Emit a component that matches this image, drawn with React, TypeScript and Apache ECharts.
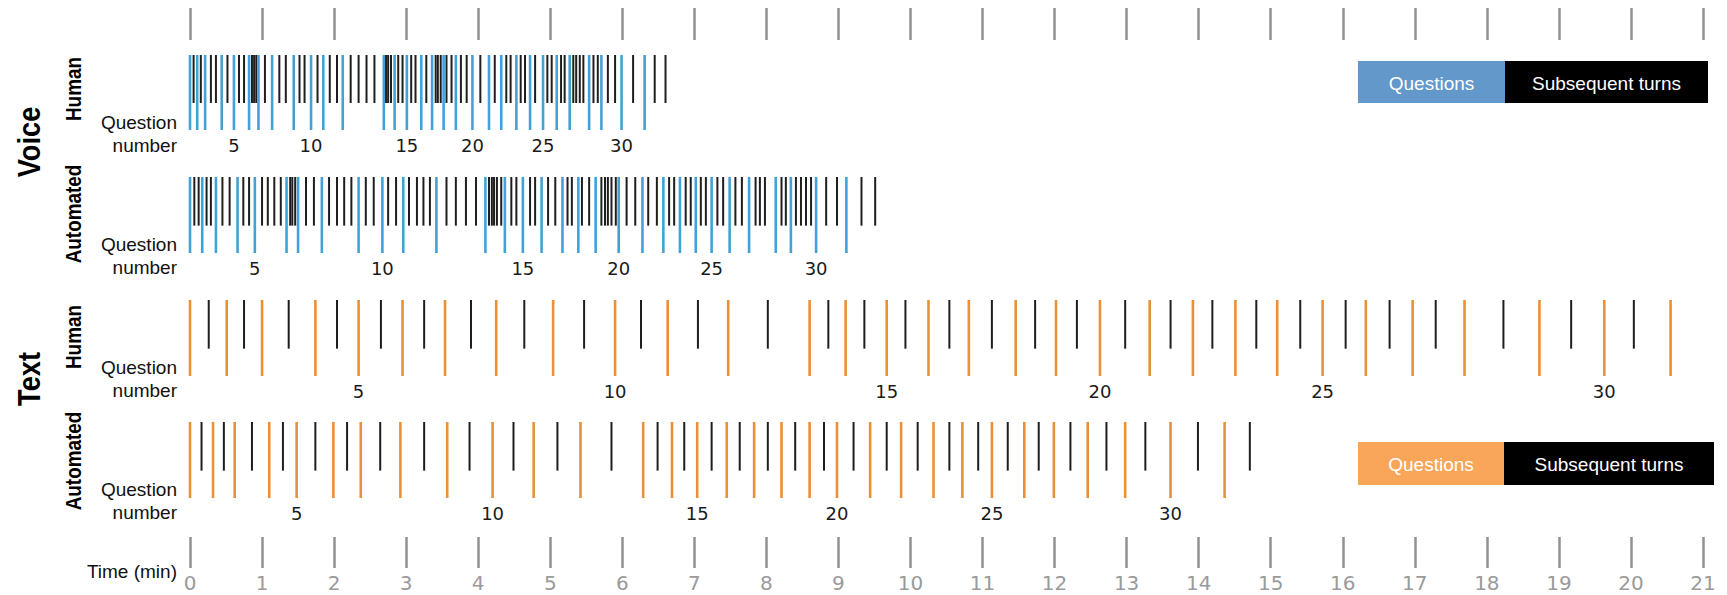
import React, { useEffect, useRef } from 'react';
import * as echarts from 'echarts';

// ---- data (minutes) ----
const TIME_TICKS = [0, 1, 2, 3, 4, 5, 6, 7, 8, 9, 10, 11, 12, 13, 14, 15, 16, 17, 18, 19, 20, 21];

const VOICE_HUMAN_Q = [0, 0.10, 0.21, 0.44, 0.61, 0.82, 0.95, 1.14, 1.44, 1.68, 1.85, 2.12, 2.69, 2.84, 3.01, 3.21, 3.36, 3.52, 3.69, 3.92, 4.15, 4.32, 4.53, 4.72, 4.90, 5.09, 5.27, 5.54, 5.71, 5.99, 6.31];
const VOICE_HUMAN_T = [0.05, 0.15, 0.29, 0.36, 0.52, 0.68, 0.75, 0.86, 0.89, 0.92, 1.04, 1.24, 1.33, 1.52, 1.59, 1.77, 1.94, 2.04, 2.23, 2.34, 2.45, 2.56, 2.72, 2.75, 2.79, 2.89, 2.95, 3.07, 3.13, 3.28, 3.41, 3.44, 3.48, 3.56, 3.63, 3.76, 3.84, 4.03, 4.23, 4.39, 4.45, 4.59, 4.65, 4.79, 4.96, 5.02, 5.15, 5.20, 5.32, 5.36, 5.41, 5.46, 5.60, 5.66, 5.80, 5.90, 6.15, 6.45, 6.60];

const VOICE_AUTO_Q = [0, 0.17, 0.36, 0.66, 0.90, 1.34, 1.50, 1.83, 2.34, 2.67, 2.96, 3.42, 4.10, 4.37, 4.62, 4.88, 5.17, 5.39, 5.63, 5.95, 6.28, 6.57, 6.80, 7.02, 7.24, 7.49, 7.76, 8.13, 8.34, 8.69, 9.11];
const VOICE_AUTO_T = [0.06, 0.12, 0.23, 0.29, 0.45, 0.55, 0.74, 0.82, 1.00, 1.08, 1.17, 1.26, 1.39, 1.42, 1.46, 1.61, 1.72, 1.93, 2.04, 2.14, 2.24, 2.44, 2.55, 2.75, 2.86, 3.04, 3.15, 3.24, 3.33, 3.56, 3.69, 3.83, 3.97, 4.15, 4.19, 4.22, 4.26, 4.32, 4.46, 4.53, 4.72, 4.79, 4.97, 5.07, 5.24, 5.30, 5.44, 5.54, 5.71, 5.76, 5.80, 5.85, 5.91, 6.06, 6.18, 6.36, 6.48, 6.65, 6.72, 6.88, 6.95, 7.09, 7.16, 7.32, 7.40, 7.57, 7.66, 7.85, 7.91, 7.98, 8.21, 8.27, 8.41, 8.48, 8.55, 8.62, 8.83, 8.98, 9.32, 9.51];

const TEXT_HUMAN_Q = [0, 0.51, 1.00, 1.74, 2.34, 2.95, 3.54, 4.25, 5.04, 5.90, 6.63, 7.47, 8.60, 9.10, 9.67, 10.25, 10.81, 11.46, 12.02, 12.63, 13.32, 13.92, 14.51, 15.09, 15.72, 16.32, 16.97, 17.69, 18.73, 19.63, 20.55];
const TEXT_HUMAN_T = [0.26, 0.75, 1.37, 2.04, 2.65, 3.25, 3.90, 4.64, 5.47, 6.26, 7.05, 8.02, 8.86, 9.36, 9.93, 10.54, 11.13, 11.73, 12.31, 12.98, 13.61, 14.19, 14.80, 15.41, 16.04, 16.65, 17.29, 18.23, 19.17, 20.04];

const TEXT_AUTO_Q = [0, 0.32, 0.62, 1.10, 1.48, 1.99, 2.37, 2.92, 3.57, 4.20, 4.77, 5.42, 6.29, 6.69, 7.04, 7.45, 7.83, 8.21, 8.60, 8.98, 9.44, 9.87, 10.32, 10.72, 11.13, 11.58, 11.99, 12.46, 12.98, 13.61, 14.36];
const TEXT_AUTO_T = [0.16, 0.47, 0.86, 1.29, 1.74, 2.18, 2.64, 3.25, 3.88, 4.49, 5.10, 5.85, 6.49, 6.86, 7.24, 7.63, 8.02, 8.40, 8.80, 9.21, 9.67, 10.10, 10.54, 10.94, 11.35, 11.78, 12.22, 12.72, 13.26, 13.99, 14.71];

const MODES = ['Voice', 'Text'];
const SOURCES = ['Human', 'Automated', 'Human', 'Automated'];
const LEGEND_LABELS = ['Questions', 'Subsequent turns'];

// ---- styles ----
const BLUE = '#42a2d8';
const ORANGE = '#ea9038';
const BLACK = '#1e1e1e';
const TICK = '#8e928f';
const X_LEFT = 190;
const X_WIDTH = 1513;
const SANS = '"Liberation Sans", Arial, sans-serif';
const DEJA = '"DejaVu Sans", sans-serif';

const ROWS = [
  { top: 55, height: 75, q: VOICE_HUMAN_Q, t: VOICE_HUMAN_T, color: BLUE },
  { top: 177, height: 76, q: VOICE_AUTO_Q, t: VOICE_AUTO_T, color: BLUE },
  { top: 300, height: 76, q: TEXT_HUMAN_Q, t: TEXT_HUMAN_T, color: ORANGE },
  { top: 422, height: 76, q: TEXT_AUTO_Q, t: TEXT_AUTO_T, color: ORANGE },
];

function lineSeries(gi: number, data: number[], color: string, width: number, frac: number, labels: boolean) {
  return {
    type: 'custom',
    xAxisIndex: gi,
    yAxisIndex: gi,
    silent: true,
    clip: false,
    encode: { x: 0, y: 1 },
    data: data.map((t, i) => [t, 0.5, i + 1]),
    renderItem: (_p: any, api: any) => {
      const x = api.value(0);
      const n = api.value(2);
      const p0 = api.coord([x, 1]);
      const p1 = api.coord([x, 1 - frac]);
      const children: any[] = [
        {
          type: 'line',
          shape: { x1: p0[0], y1: p0[1], x2: p1[0], y2: p1[1] },
          style: { stroke: color, lineWidth: width },
        },
      ];
      if (labels && n % 5 === 0) {
        children.push({
          type: 'text',
          x: p1[0],
          y: p1[1] + 15.5,
          style: { text: String(n), fill: '#1a1a1a', font: `18px ${DEJA}`, align: 'center', verticalAlign: 'middle' },
        });
      }
      return { type: 'group', children };
    },
  };
}

export default function App() {
  const ref = useRef<HTMLDivElement>(null);
  useEffect(() => {
    if (!ref.current) return;
    const chart = echarts.init(ref.current, undefined, { renderer: 'svg' });

    const grids: any[] = ROWS.map((r) => ({ left: X_LEFT, width: X_WIDTH, top: r.top, height: r.height }));
    grids.push({ left: X_LEFT, width: X_WIDTH, top: 8, height: 32 });
    grids.push({ left: X_LEFT, width: X_WIDTH, top: 537, height: 31 });

    const xAxes: any[] = ROWS.map((_, i) => ({ type: 'value', gridIndex: i, min: 0, max: 21, show: false }));
    const tickAxis = (gi: number, showLabel: boolean) => ({
      type: 'value',
      gridIndex: gi,
      min: TIME_TICKS[0],
      max: TIME_TICKS[TIME_TICKS.length - 1],
      interval: 1,
      position: 'bottom',
      axisLine: { show: false },
      splitLine: { show: false },
      axisTick: { show: true, inside: true, length: gi === 4 ? 32 : 31, lineStyle: { color: TICK, width: 2.5 } },
      axisLabel: {
        show: showLabel,
        margin: 5,
        color: '#9a9a9a',
        fontSize: 20,
        fontFamily: 'DejaVu Sans',
        verticalAlign: 'top',
        formatter: (v: number) => String(v),
      },
    });
    xAxes.push(tickAxis(4, false));
    xAxes.push(tickAxis(5, true));

    const yAxes: any[] = grids.map((_, i) => ({ type: 'value', gridIndex: i, min: 0, max: 1, show: false }));

    const series: any[] = [];
    ROWS.forEach((r, i) => {
      series.push(lineSeries(i, r.t, BLACK, 2, 0.64, false));
    });
    ROWS.forEach((r, i) => {
      series.push(lineSeries(i, r.q, r.color, 2.6, 1, true));
    });

    const graphic: any[] = [];
    const qLabelY = [[122, 145], [244, 267], [367, 390], [489, 512]];
    qLabelY.forEach(([a, b]) => {
      graphic.push({ type: 'text', x: 177, y: a, style: { text: 'Question', fill: '#111', font: `19px ${SANS}`, align: 'right', verticalAlign: 'middle' } });
      graphic.push({ type: 'text', x: 177, y: b, style: { text: 'number', fill: '#111', font: `19px ${SANS}`, align: 'right', verticalAlign: 'middle' } });
    });
    graphic.push({ type: 'text', x: 177, y: 571, style: { text: 'Time (min)', fill: '#111', font: `19px ${SANS}`, align: 'right', verticalAlign: 'middle' } });

    const srcY = [89, 214, 337, 461];
    SOURCES.forEach((s, i) => {
      graphic.push({
        type: 'text', x: 73, y: srcY[i], rotation: Math.PI / 2, scaleX: 0.86,
        style: { text: s, fill: '#000', font: `bold 22px ${SANS}`, align: 'center', verticalAlign: 'middle' },
      });
    });
    const modeY = [142, 379];
    MODES.forEach((m, i) => {
      graphic.push({
        type: 'text', x: 29, y: modeY[i], rotation: Math.PI / 2, scaleX: 0.85,
        style: { text: m, fill: '#000', font: `bold 32px ${SANS}`, align: 'center', verticalAlign: 'middle' },
      });
    });

    // legends
    const legend = (y: number, h: number, c1: string, w1: number, w2: number) => {
      graphic.push({ type: 'rect', shape: { x: 1358, y, width: w1, height: h }, style: { fill: c1 } });
      graphic.push({ type: 'rect', shape: { x: 1358 + w1, y, width: w2, height: h }, style: { fill: '#000' } });
      graphic.push({ type: 'text', x: 1358 + w1 / 2, y: y + h / 2 + 1, style: { text: LEGEND_LABELS[0], fill: '#fff', font: `19px ${SANS}`, align: 'center', verticalAlign: 'middle' } });
      graphic.push({ type: 'text', x: 1358 + w1 + w2 / 2, y: y + h / 2 + 1, style: { text: LEGEND_LABELS[1], fill: '#fff', font: `19px ${SANS}`, align: 'center', verticalAlign: 'middle' } });
    };
    legend(61, 42, '#6398ca', 147, 203);
    legend(442, 43, '#f9a65a', 146, 210);

    chart.setOption({
      animation: false,
      backgroundColor: '#fff',
      grid: grids,
      xAxis: xAxes,
      yAxis: yAxes,
      series,
      graphic,
    });
    return () => chart.dispose();
  }, []);

  return (
    <div
      ref={ref}
      style={{ position: 'fixed', left: 0, top: 0, width: 1727, height: 595, background: '#fff' }}
    />
  );
}
